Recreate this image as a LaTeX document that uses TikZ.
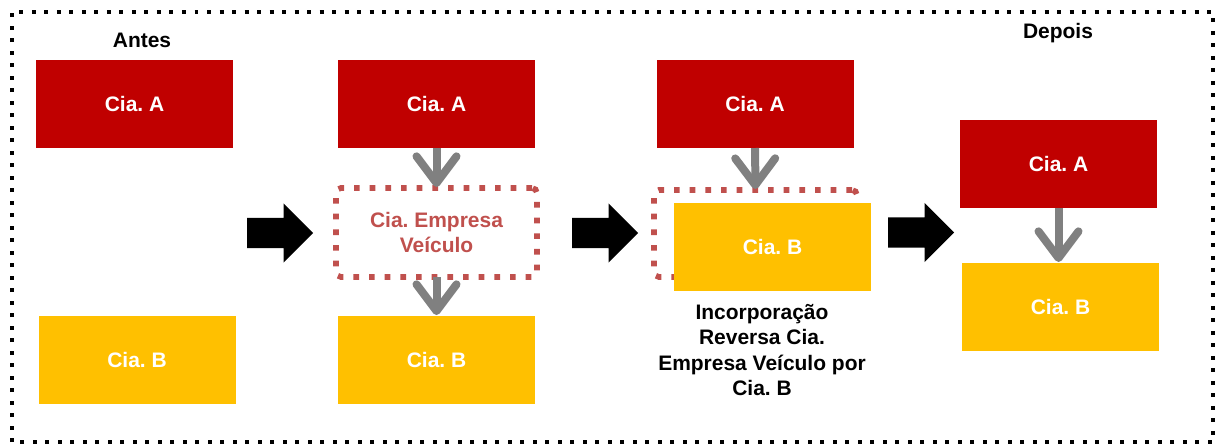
\documentclass[tikz,border=0pt]{standalone}
\usepackage{fontspec}
\setmainfont{Liberation Sans}
\definecolor{ciared}{HTML}{C00000}
\definecolor{ciayellow}{HTML}{FFC000}
\definecolor{vehred}{HTML}{C0504D}
\definecolor{arrgray}{HTML}{808080}
\usetikzlibrary{arrows.meta,shapes.arrows}
\frenchspacing

\begin{document}
\begin{tikzpicture}[
      font=\fontsize{17.9}{21.5}\selectfont\bfseries,
      cia/.style={minimum width=5.91cm, minimum height=2.64cm, inner sep=0pt,
                  outer sep=0pt, text=white, align=center},
      ciaA/.style={cia, fill=ciared},
      ciaB/.style={cia, fill=ciayellow},
      veh/.style={draw=vehred, line width=0.17cm, dash pattern=on 0.17cm off 0.3cm,
                  rounded corners=0.15cm, minimum height=2.67cm, inner sep=0pt,
                  outer sep=0pt, text=vehred, align=center},
      blk/.style={single arrow, fill=black, minimum height=1.98cm, minimum width=1.77cm,
                  single arrow head extend=0.435cm, inner xsep=0pt, inner ysep=0.45cm,
                  anchor=tail},
      arr/.style={-{Straight Barb[round, length=0.8cm, width=1.2cm]}, line width=0.24cm,
                  draw=arrgray, shorten >=0.03cm}
    ]
      \useasboundingbox (0,0) rectangle (36.51,13.35);
      \draw[line width=0.12cm, dash pattern=on 0.12cm off 0.255cm] (0.36,0.09) rectangle (36.39,12.99);

      % Antes
      \node (antes) at (4.26,12.15) {Antes};
      \node[ciaA] (a1) at (4.035,10.23) {Cia. A};
      \node[ciaB] (b1) at (4.11,2.55) {Cia. B};
      \node[blk] (s1) at (7.41,6.36) {};

      % veiculo
      \node[ciaA] (a2) at (13.095,10.23) {Cia. A};
      \node[veh, minimum width=6.03cm] (v2) at (13.095,6.375) {Cia. Empresa\\Veículo};
      \node[ciaB] (b2) at (13.095,2.55) {Cia. B};
      \draw[arr] (a2) -- (v2);
      \draw[arr] (v2) -- (b2);
      \node[blk] (s2) at (17.16,6.36) {};

      % incorporacao
      \node[ciaA] (a3) at (22.65,10.23) {Cia. A};
      \node[veh, minimum width=6.09cm, minimum height=2.61cm] (v3) at (22.665,6.345) {};
      \node[ciaB] (b3) at (23.175,5.94) {Cia. B};
      \draw[arr] (a3) -- (v3);
      \node[align=center] (inc) at (22.86,2.85) {Incorporação\\Reversa Cia.\\Empresa Veículo por\\Cia. B};
      \node[blk] (s3) at (26.64,6.375) {};

      % Depois
      \node (depois) at (31.74,12.36) {Depois};
      \node[ciaA] (a4) at (31.755,8.43) {Cia. A};
      \node[ciaB] (b4) at (31.815,4.14) {Cia. B};
      \draw[arr] (a4) -- (a4 |- b4.north);
    \end{tikzpicture}
\end{document}
